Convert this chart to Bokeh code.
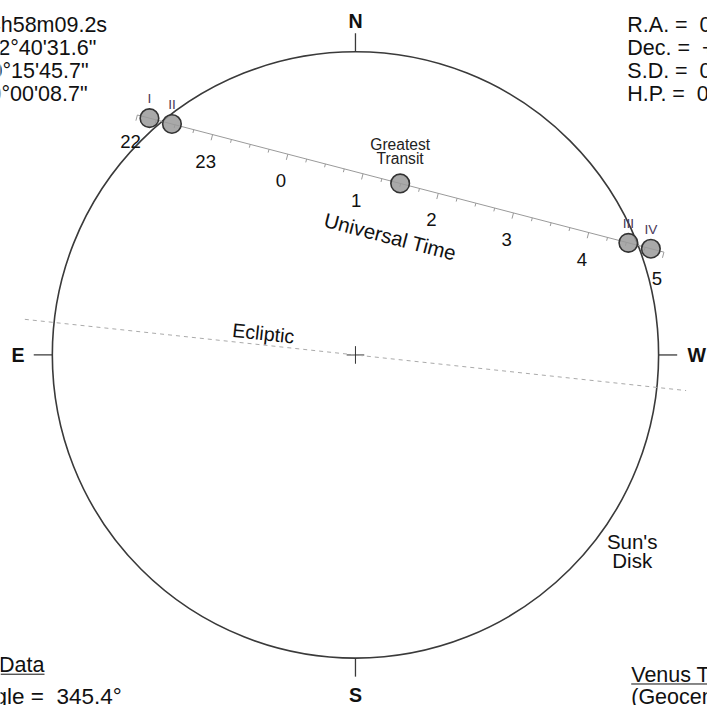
import numpy as np
from bokeh.plotting import figure
from bokeh.models import Range1d
from bokeh.embed import file_html
from bokeh.resources import INLINE
from bokeh.core.properties import value

NB = "\u00a0"

# ---------------- data ----------------
sun_semi_diameter_arcsec = 945.7        # 0°15'45.7"
venus_semi_diameter_arcsec = 29.0
min_separation_arcsec = 553.0           # Venus–Sun centre distance at greatest transit
greatest_pa_deg = 345.4                 # position angle of greatest transit
venus_rate_arcsec_per_hr = 242.5        # relative hourly motion of Venus
greatest_time_hr = 25.4933              # 01:29:36 UT (hours after 0h June 5)
contact_labels = ["I", "II", "III", "IV"]
contact_times_hr = [22.1606, 22.4594, 28.5272, 28.8264]
hour_values = [22, 23, 24, 25, 26, 27, 28, 29]
hour_labels = ["22", "23", "0", "1", "2", "3", "4", "5"]
tick_step_hr = 0.25
ecliptic_tilt_deg = 6.15
ecliptic_half_length = 1.097            # in solar radii
cardinal_labels = ["N", "E", "S", "W"]
sun_info = ["R.A. =" + NB + NB + "04h58m09.2s", "Dec. =" + NB + NB + "+22°40'31.6\"",
            "S.D. =" + NB + NB + "0°15'45.7\"", "H.P. =" + NB + NB + "0°00'08.7\""]
venus_info = ["R.A. =" + NB + NB + "0", "Dec. =" + NB + NB + "+",
              "S.D. =" + NB + NB + "0", "H.P. =" + NB + NB + "0"]
pa_text = "Angle =" + NB + NB + "345.4°"

# ---------------- layout ----------------
W_REF, H_REF = 723, 721
PW, PH = 707, 705
k = PW / W_REF
CX, CY, R = 363.0, 362.5, 310.0
FONT = value("Liberation Sans")
INK = "#111111"
scale = R / sun_semi_diameter_arcsec


def fs(px):
    return f"{px * k:.1f}px"


p = figure(width=PW, height=PH, x_range=Range1d(0, W_REF), y_range=Range1d(H_REF, 0),
           x_axis_type=None, y_axis_type=None, toolbar_location=None,
           output_backend="svg", min_border=0)
p.outline_line_color = None
p.grid.visible = False
p.background_fill_color = "white"

# Sun disk
p.circle(x=[CX], y=[CY], radius=R, fill_color=None, line_color="#3a3a3a", line_width=1.6)

# cardinal ticks and labels
tick_len = 19
card_off = {"N": 342, "E": 345, "S": 348, "W": 349}
dirs = {"N": (0, -1), "E": (-1, 0), "S": (0, 1), "W": (1, 0)}
x0s, y0s, x1s, y1s, lx, ly = [], [], [], [], [], []
for c in cardinal_labels:
    dx, dy = dirs[c]
    x0s.append(CX + dx * R); y0s.append(CY + dy * R)
    x1s.append(CX + dx * (R + tick_len)); y1s.append(CY + dy * (R + tick_len))
    lx.append(CX + dx * card_off[c]); ly.append(CY + dy * card_off[c])
p.segment(x0=x0s, y0=y0s, x1=x1s, y1=y1s, line_color="#3a3a3a", line_width=1.3)
p.text(x=lx, y=ly, text=cardinal_labels, text_font=FONT, text_font_style="bold",
       text_font_size=fs(20), text_align="center", text_baseline="middle", text_color=INK)

# centre cross
p.scatter(x=[CX], y=[CY], marker="cross", size=18 * k, line_color="#333333", line_width=1)

# ecliptic
a = np.deg2rad(ecliptic_tilt_deg)
L = ecliptic_half_length * R
p.line(x=[CX - L * np.cos(a), CX + L * np.cos(a)], y=[CY - L * np.sin(a), CY + L * np.sin(a)],
       line_color="#aaaaaa", line_dash="4 4", line_width=1)
ex = CX - 96 * np.cos(a) + 12 * np.sin(a)
ey = CY - 96 * np.sin(a) - 12 * np.cos(a)
p.text(x=[ex], y=[ey], text=["Ecliptic"], angle=-a, text_font=FONT, text_font_size=fs(20),
       text_align="center", text_baseline="middle", text_color=INK)

# Venus path geometry
th = np.deg2rad(greatest_pa_deg)
u = np.array([-np.sin(th), -np.cos(th)])     # from sun centre toward greatest transit
v = np.array([np.cos(th), -np.sin(th)])      # direction of motion
n = -u                                        # tick direction
G = np.array([CX, CY]) + min_separation_arcsec * scale * u
rate = venus_rate_arcsec_per_hr * scale


def pos(t):
    t = np.asarray(t, dtype=float)
    d = (t - greatest_time_hr) * rate
    return G[0] + d * v[0], G[1] + d * v[1]


# chord line
lx0, ly0 = pos(hour_values[0]); lx1, ly1 = pos(hour_values[-1])
p.line(x=[lx0, lx1], y=[ly0, ly1], line_color="#9a9a9a", line_width=1)

# ticks
tt = np.arange(hour_values[0], hour_values[-1] + 1e-9, tick_step_hr)
tx, ty = pos(tt)
major = np.isclose(tt, np.round(tt))
tl = np.where(major, 6.0, 3.5)
p.segment(x0=tx, y0=ty, x1=tx + tl * n[0], y1=ty + tl * n[1], line_color="#9a9a9a", line_width=1)

# hour labels
hx, hy = pos(hour_values)
p.text(x=hx + 28 * n[0], y=hy + 28 * n[1], text=hour_labels, text_font=FONT, text_font_size=fs(19),
       text_align="center", text_baseline="middle", text_color=INK)

# Universal Time label
ux, uy = pos(greatest_time_hr + 0.05)
ang = -np.arctan2(v[1], v[0])
p.text(x=[ux + 55 * n[0]], y=[uy + 55 * n[1]], text=["Universal Time"], angle=ang, text_font=FONT,
       text_font_size=fs(21), text_align="center", text_baseline="middle", text_color=INK)

# Venus disks
vr = venus_semi_diameter_arcsec * scale
cx_, cy_ = pos(contact_times_hr)
gx, gy = pos([greatest_time_hr])
p.circle(x=list(cx_) + list(gx), y=list(cy_) + list(gy), radius=vr, fill_color="#9a9a9a",
         fill_alpha=0.85, line_color="#333333", line_width=1.6)
p.text(x=cx_, y=cy_ - 20, text=contact_labels, text_font=FONT, text_font_size=fs(14),
       text_align="center", text_baseline="middle", text_color="#4a3a5a")
p.text(x=[gx[0], gx[0]], y=[gy[0] - 40, gy[0] - 25], text=["Greatest", "Transit"], text_font=FONT,
       text_font_size=fs(16), text_align="center", text_baseline="middle", text_color="#222222")

# Sun's disk label
p.text(x=[646, 646], y=[553, 573], text=["Sun's", "Disk"], text_font=FONT, text_font_size=fs(21),
       text_align="center", text_baseline="middle", text_color=INK)

# corner info blocks
info_y = [25, 49, 72, 96]
p.text(x=[109, 98, 90, 89], y=info_y, text=sun_info, text_font=FONT, text_font_size=fs(22),
       text_align="right", text_baseline="middle", text_color=INK)
p.text(x=[641] * 4, y=info_y, text=venus_info, text_font=FONT, text_font_size=fs(22),
       text_align="left", text_baseline="middle", text_color=INK)

# bottom data headings
p.text(x=[45], y=[680], text=["Data"], text_font=FONT, text_font_size=fs(22),
       text_align="right", text_baseline="middle", text_color=INK)
p.segment(x0=[0], y0=[689], x1=[45], y1=[689], line_color=INK, line_width=1)
p.text(x=[124], y=[712], text=[pa_text], text_font=FONT, text_font_size=fs(23),
       text_align="right", text_baseline="middle", text_color=INK)
p.text(x=[645, 645], y=[690, 712], text=["Venus Transit", "(Geocentric)"], text_font=FONT,
       text_font_size=fs(22), text_align="left", text_baseline="middle", text_color=INK)
p.segment(x0=[645], y0=[699], x1=[730], y1=[699], line_color=INK, line_width=1)

open("out.html", "w").write(file_html(p, INLINE))
